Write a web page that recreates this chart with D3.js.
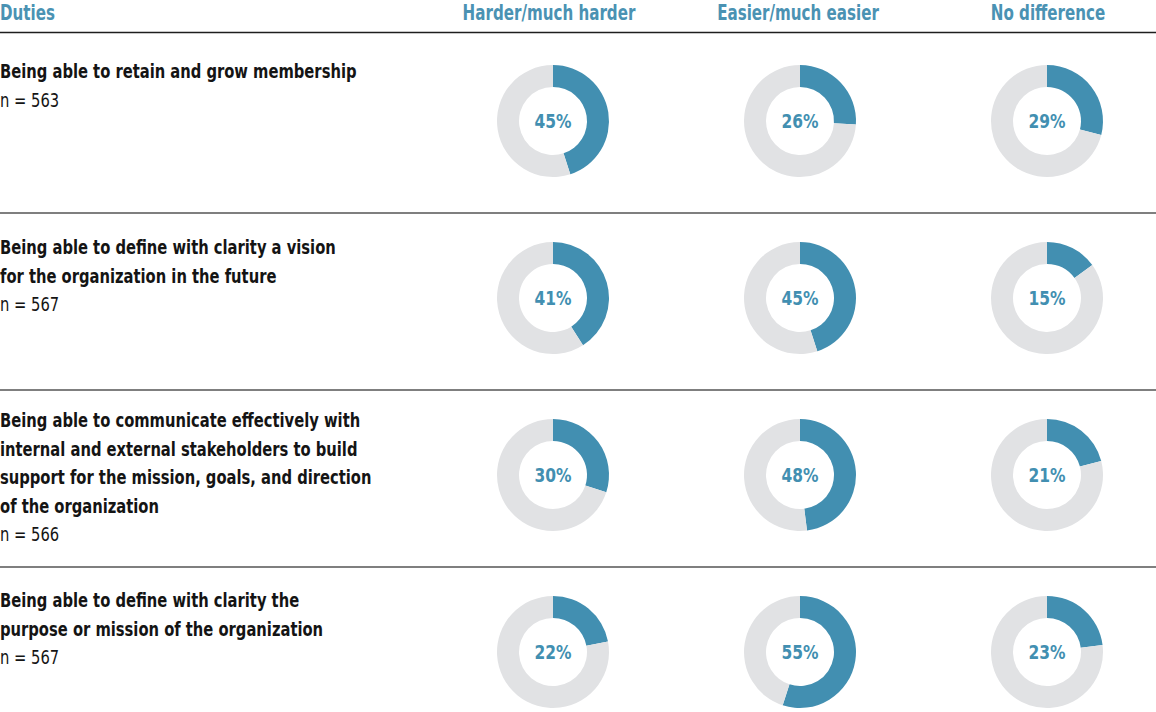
<!DOCTYPE html>
<html>
<head>
<meta charset="utf-8">
<script src="https://cdn.jsdelivr.net/npm/d3@7"></script>
<style>
  html, body { margin: 0; padding: 0; background: #fff; }
  svg text { font-family: "DejaVu Sans Condensed", "Liberation Sans Narrow", sans-serif; }
</style>
</head>
<body>
<div id="chart"></div>
<script>
// Data
const duties = [
  ['Being able to retain and grow membership'],
  ['Being able to define with clarity a vision', 'for the organization in the future'],
  ['Being able to communicate effectively with', 'internal and external stakeholders to build',
   'support for the mission, goals, and direction', 'of the organization'],
  ['Being able to define with clarity the', 'purpose or mission of the organization']
];
const sampleSizes = [563, 567, 566, 567];
const responses = ['Harder/much harder', 'Easier/much easier', 'No difference'];
const harder = [45, 41, 30, 22];
const easier = [26, 45, 48, 55];
const noDifference = [29, 15, 21, 23];

const dims = { width: 1156, height: 712 };
const blue = '#428fb1';
const grey = '#e1e2e4';
const squeeze = 0.82;                  // narrow the font to look like a condensed face
const labelOffset = [46, 41, 37, 40]; // first label baseline below the row's top rule
const headShift = [-4, -2, 1];        // header nudges relative to donut centres

const svg = d3.select('#chart')
  .append('svg')
  .attr('width', dims.width)
  .attr('height', dims.height);

const x = d3.scalePoint().domain(responses).range([553, 1047]);
const y = d3.scalePoint().domain(d3.range(duties.length)).range([121, 652]);
const rowTop = i => i === 0 ? 32 : y(i) - 85;

// condensed text helper: text drawn at (tx, ty), squeezed horizontally
const addText = (parent, tx, ty, str, opts) => {
  return parent.append('text')
    .attr('transform', `translate(${tx}, ${ty}) scale(${opts.sx || squeeze}, 1)`)
    .attr('text-anchor', opts.anchor || 'start')
    .attr('dy', opts.dy || null)
    .attr('fill', opts.fill || '#141414')
    .style('font-weight', opts.bold ? 'bold' : 'normal')
    .style('font-size', (opts.size || 20) + 'px')
    .text(str);
};

// Header
addText(svg, 0, 20, 'Duties', { bold: true, fill: '#4a92b3', size: 20.5 });
responses.forEach((r, k) => {
  addText(svg, x(r) + headShift[k], 20, r, { bold: true, fill: '#4a92b3', size: 20.5, anchor: 'middle' });
});

svg.append('line')
  .attr('x1', 0).attr('x2', dims.width)
  .attr('y1', 32.5).attr('y2', 32.5)
  .attr('stroke', '#1e1e1e').attr('stroke-width', 1.6);

// Row rules
svg.selectAll('line.rule')
  .data(d3.range(1, duties.length))
  .enter()
  .append('line')
  .attr('class', 'rule')
  .attr('x1', 0).attr('x2', dims.width)
  .attr('y1', d => rowTop(d)).attr('y2', d => rowTop(d))
  .attr('stroke', '#555').attr('stroke-width', 1.3);

// Row labels
duties.forEach((lines, i) => {
  const g = svg.append('g').attr('class', 'row');
  const base = rowTop(i) + labelOffset[i];
  lines.forEach((line, j) => {
    addText(g, 0, base + j * 28.5, line, { bold: true });
  });
  addText(g, 0, base + lines.length * 28.5, `n = ${sampleSizes[i]}`, {});
});

// Donuts
const series = [harder, easier, noDifference];
const pie = d3.pie().sort(null).value(d => d);
const arc = d3.arc().innerRadius(34).outerRadius(56);

series.forEach((values, k) => {
  values.forEach((v, i) => {
    const g = svg.append('g')
      .attr('transform', `translate(${x(responses[k])}, ${y(i)})`);
    g.selectAll('path')
      .data(pie([v, 100 - v]))
      .enter()
      .append('path')
      .attr('d', arc)
      .attr('fill', (d, j) => j === 0 ? blue : grey);
    addText(g, 0, 0, `${v}%`, { bold: true, fill: blue, anchor: 'middle', dy: '0.36em', sx: 0.86 });
  });
});
</script>
</body>
</html>
